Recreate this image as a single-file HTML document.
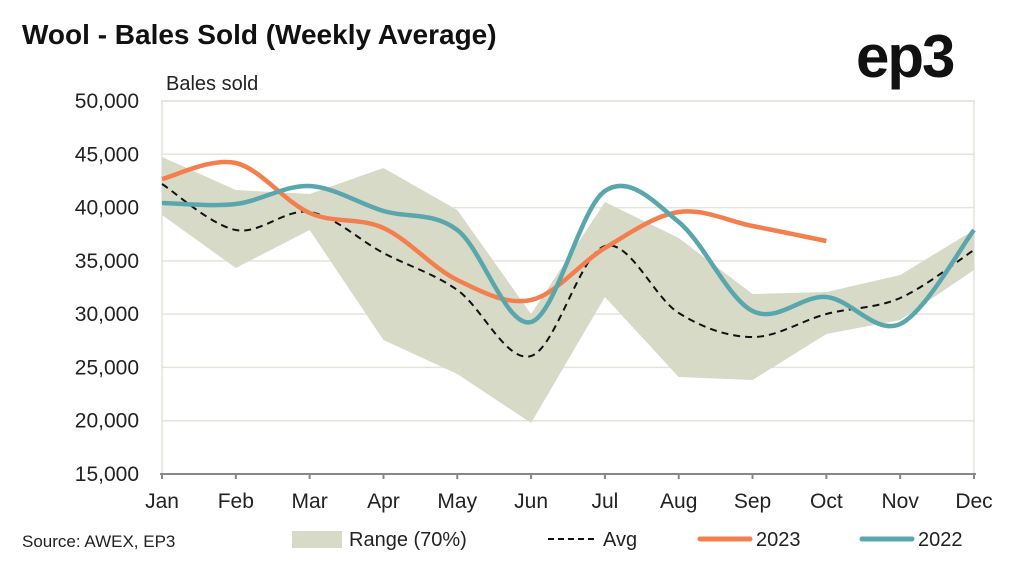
<!DOCTYPE html>
<html><head><meta charset="utf-8"><style>
body{margin:0;background:#fff;width:1024px;height:568px;overflow:hidden;font-family:"Liberation Sans",sans-serif;}
</style></head><body>
<svg id="s" width="1024" height="568" xmlns="http://www.w3.org/2000/svg" font-family="Liberation Sans, sans-serif">
<text x="22" y="44" font-size="28" font-weight="bold" fill="#111">Wool - Bales Sold (Weekly Average)</text>
<text x="856" y="77" font-size="60" font-weight="bold" fill="#111" letter-spacing="-2">ep3</text>
<text x="166" y="90" font-size="20" fill="#222">Bales sold</text>
<g id="grid" stroke="#e4e4da" stroke-width="1.5"></g>
<rect x="162" y="101" width="812" height="373" fill="none" stroke="#e4e4da" stroke-width="1.5"/>
<path id="range" fill="#d8dac8"/>
<path id="avg" fill="none" stroke="#111" stroke-width="2" stroke-dasharray="7,5"/>
<path id="y23" fill="none" stroke="#f47f4e" stroke-width="4.5"/>
<path id="y22" fill="none" stroke="#5aa6ad" stroke-width="4.5"/>
<line x1="160" y1="474" x2="976" y2="474" stroke="#888" stroke-width="2"/>
<g id="ticks" stroke="#888" stroke-width="2"></g>
<g id="lab" font-size="21" fill="#222"></g>
<text x="22" y="547" font-size="17" fill="#222">Source: AWEX, EP3</text>
<rect x="292" y="531" width="50" height="17" fill="#d8dac8"/>
<text x="349" y="546" font-size="20" fill="#222">Range (70%)</text>
<line x1="548" y1="539" x2="598" y2="539" stroke="#111" stroke-width="2" stroke-dasharray="6,4"/>
<text x="603" y="546" font-size="20" fill="#222">Avg</text>
<line x1="700" y1="539" x2="750" y2="539" stroke="#f47f4e" stroke-width="5" stroke-linecap="round"/>
<text x="756" y="546" font-size="20" fill="#222">2023</text>
<line x1="862" y1="539" x2="912" y2="539" stroke="#5aa6ad" stroke-width="5" stroke-linecap="round"/>
<text x="918" y="546" font-size="20" fill="#222">2022</text>
</svg>
<script>
var X=i=>162+i*(812/11);
function sm(ys){var p=ys.map((y,i)=>[X(i),y]);var d="M"+p[0][0]+","+p[0][1];
for(var i=0;i<p.length-1;i++){var a=p[i-1]||p[i],b=p[i],c=p[i+1],e=p[i+2]||c;
d+=" C"+(b[0]+(c[0]-a[0])/6)+","+(b[1]+(c[1]-a[1])/6)+" "+(c[0]-(e[0]-b[0])/6)+","+(c[1]-(e[1]-b[1])/6)+" "+c[0]+","+c[1];}return d;}
var up=[157,190,194,168,210,314,202,238,294,292,275,230],lo=[215,268,230,340,374,423,297,377,380,334,320,270];
var d="M"+up.map((y,i)=>X(i)+","+y).join(" L");for(var i=11;i>=0;i--)d+=" L"+X(i)+","+lo[i];
document.getElementById('range').setAttribute('d',d+"Z");
document.getElementById('avg').setAttribute('d',sm([184,230,212,253,290,356,246,313,337,314,298,250]));
document.getElementById('y23').setAttribute('d',sm([179,163,213,228,280,300,248,212,226,241]));
document.getElementById('y22').setAttribute('d',sm([203,204,186,211,230,322,191,222,311,297,324,230]));
var ns="http://www.w3.org/2000/svg",g=document.getElementById('grid'),t=document.getElementById('ticks'),l=document.getElementById('lab');
function el(p,n,a,txt){var e=document.createElementNS(ns,n);for(var k in a)e.setAttribute(k,a[k]);if(txt)e.textContent=txt;p.appendChild(e);}
for(var v=15000;v<=50000;v+=5000){var y=474-(v-15000)/35000*373;if(v>15000)el(g,'line',{x1:162,x2:974,y1:y,y2:y});
el(l,'text',{x:139,y:y+7,'text-anchor':'end'},v.toLocaleString('en-US'));}
"Jan Feb Mar Apr May Jun Jul Aug Sep Oct Nov Dec".split(" ").forEach((m,i)=>{el(t,'line',{x1:X(i),x2:X(i),y1:474,y2:479});el(l,'text',{x:X(i),y:508,'text-anchor':'middle'},m);});
</script>
</body></html>
